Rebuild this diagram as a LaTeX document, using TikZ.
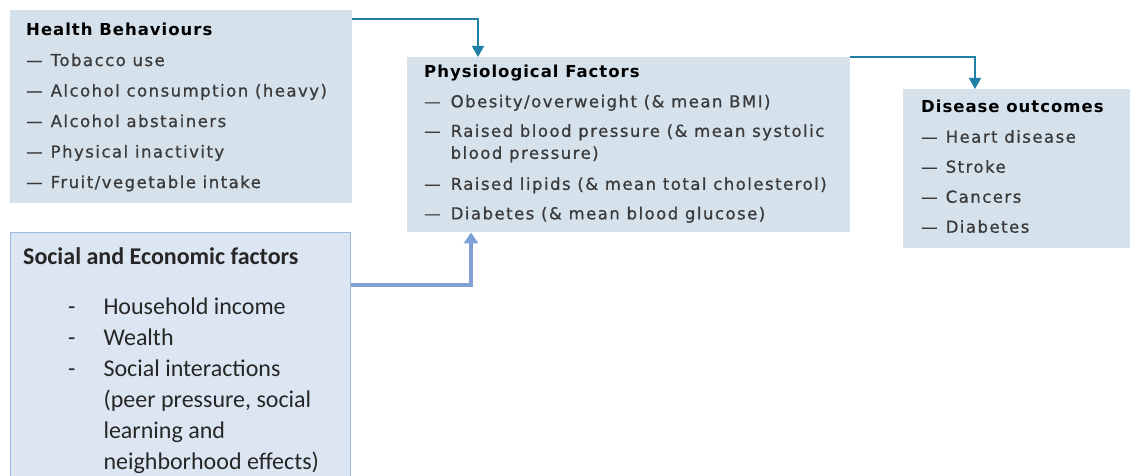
\documentclass[tikz,border=0pt]{standalone}
\usepackage{fontspec}
\usepackage{array}
\usepackage{tikz}
\usetikzlibrary{arrows.meta}
\usetikzlibrary{positioning}

\newfontfamily\diagfont{DejaVu Sans}[LetterSpace=9, FakeBold=0.8]
\newfontfamily\diaghead{DejaVu Sans Bold}[LetterSpace=6]
\newfontfamily\socfont{Carlito}

\definecolor{boxfill}{HTML}{D5E2EC}
\definecolor{socfill}{HTML}{DCE6F2}
\definecolor{socline}{HTML}{9DB9DD}
\definecolor{linkcol}{HTML}{1F7FA6}
\definecolor{socarrow}{HTML}{7FA1D6}
\definecolor{itemcol}{HTML}{3A3A3A}

\tikzset{
  factorbox/.style = {fill=boxfill, draw=none, anchor=north west, inner sep=0pt},
  listtext/.style = {anchor=north west, inner sep=0pt, text=itemcol},
  link/.style = {draw=linkcol, line width=1.6pt, -{Triangle[width=12pt,length=11pt]}},
  soclink/.style = {draw=socarrow, line width=4.5pt, -{Triangle[width=14pt,length=11pt]}}
}

\begin{document}
\begin{tikzpicture}[x=1pt, y=-1pt]
            \useasboundingbox (0,0) rectangle (1130,476);

            % boxes
            \node[factorbox, minimum width=342pt, minimum height=193pt] (hb) at (10,10) {};
            \node[factorbox, minimum width=443pt, minimum height=175pt] (phys) at (407,57) {};
            \node[factorbox, minimum width=229pt, minimum height=159pt] (dis) at (903,89) {};
            \node[factorbox, fill=socfill, draw=socline, line width=0.8pt,
            minimum width=340pt, minimum height=260pt] (soc) at (10,232) {};

            % texts
            \node[listtext] (hbtxt) at ([xshift=16pt, yshift=-4pt]hb.north west) {\diagfont\fontsize{16.5}{30.5}\selectfont
            \begin{tabular}{@{}l@{\hspace{8pt}}l@{}}
            \multicolumn{2}{@{}l@{}}{\color{black}\diaghead Health Behaviours}\\
            — & Tobacco use\\
            — & Alcohol consumption (heavy)\\
            — & Alcohol abstainers\\
            — & Physical inactivity\\
            — & Fruit/vegetable intake
            \end{tabular}};

            \node[listtext] (phystxt) at ([xshift=17pt, yshift=0pt]phys.north west) {\diagfont\fontsize{16.5}{29.5}\selectfont
            \begin{tabular}{@{}l@{\hspace{10pt}}l@{}}
            \multicolumn{2}{@{}l@{}}{\color{black}\diaghead Physiological Factors}\\
            — & Obesity/overweight (\& mean BMI)\\
            — & Raised blood pressure (\& mean systolic\\[-7.5pt]
              & blood pressure)\\[1.5pt]
            — & Raised lipids (\& mean total cholesterol)\\
            — & Diabetes (\& mean blood glucose)
            \end{tabular}};

            \node[listtext] (distxt) at ([xshift=18pt, yshift=-2.5pt]dis.north west) {\diagfont\fontsize{16.5}{30}\selectfont
            \begin{tabular}{@{}l@{\hspace{8pt}}l@{}}
            \multicolumn{2}{@{}l@{}}{\color{black}\diaghead Disease outcomes}\\
            — & Heart disease\\
            — & Stroke\\
            — & Cancers\\
            — & Diabetes
            \end{tabular}};

            \node[listtext, text=black!85] (soctxt) at ([xshift=13pt, yshift=-11pt]soc.north west) {\socfont\fontsize{24}{31}\selectfont
            \begin{tabular}{@{\hspace{45pt}}l@{\hspace{28pt}}l@{}}
            \multicolumn{2}{@{}l@{}}{\bfseries Social and Economic factors}\\[19pt]
            - & Household income\\
            - & Wealth\\
            - & Social interactions\\
              & (peer pressure, social\\
              & learning and\\
              & neighborhood effects)
            \end{tabular}};

            % connectors
            \draw[link] ([yshift=-9pt]hb.north east) -| ([xshift=71pt]phys.north west);
            \draw[link] (phys.north east) -| ([xshift=72pt]dis.north west);
            \draw[soclink] ([yshift=-53pt]soc.north east) -| ([xshift=64pt]phys.south west);
        \end{tikzpicture}
\end{document}
